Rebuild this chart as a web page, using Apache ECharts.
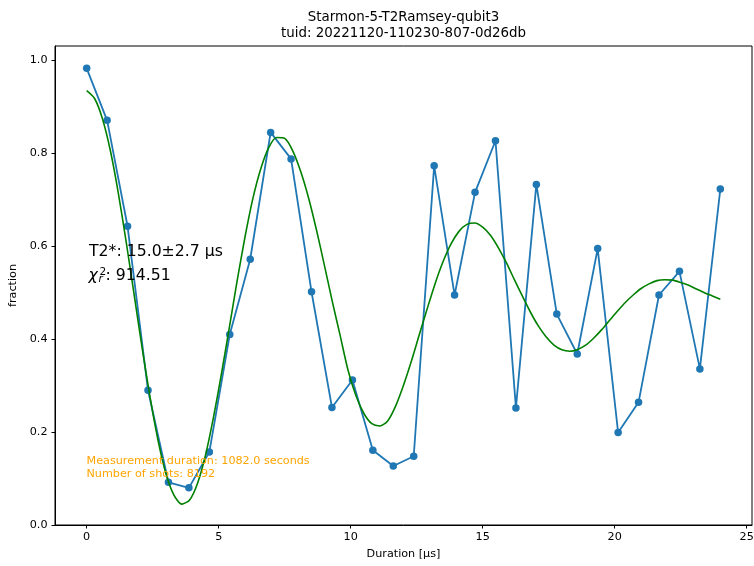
<!DOCTYPE html>
<html>
<head>
<meta charset="utf-8">
<script src="https://cdn.jsdelivr.net/npm/echarts@6/dist/echarts.min.js"></script>
<style>
html,body{margin:0;padding:0;background:#fff;}
#c{width:754px;height:566px;}
</style>
</head>
<body>
<div id="c"></div>
<script>
// Measured data (Duration in μs, fraction)
const durations = [0, 0.774, 1.548, 2.323, 3.097, 3.871, 4.645, 5.419, 6.194, 6.968, 7.742, 8.516, 9.290, 10.065, 10.839, 11.613, 12.387, 13.161, 13.935, 14.710, 15.484, 16.258, 17.032, 17.806, 18.581, 19.355, 20.129, 20.903, 21.677, 22.452, 23.226, 24.0];
const fractions = [0.983, 0.871, 0.643, 0.290, 0.092, 0.080, 0.157, 0.410, 0.572, 0.845, 0.788, 0.502, 0.253, 0.312, 0.161, 0.127, 0.148, 0.773, 0.495, 0.716, 0.827, 0.252, 0.733, 0.454, 0.368, 0.595, 0.199, 0.264, 0.495, 0.546, 0.336, 0.723];

// Fit curve
const fitT = [0, 0.3, 0.6, 0.9, 1.2, 1.5, 1.8, 2.1, 2.4, 2.7, 3.0, 3.3, 3.6, 3.9, 4.2, 4.5, 4.8, 5.1, 5.4, 5.7, 6.0, 6.3, 6.6, 6.9, 7.2, 7.5, 7.8, 8.1, 8.4, 8.7, 9.0, 9.3, 9.6, 9.9, 10.2, 10.5, 10.8, 11.1, 11.4, 11.7, 12.0, 12.3, 12.6, 12.9, 13.2, 13.5, 13.8, 14.1, 14.4, 14.7, 15.0, 15.3, 15.6, 15.9, 16.2, 16.5, 16.8, 17.1, 17.4, 17.7, 18.0, 18.3, 18.6, 18.9, 19.2, 19.5, 19.8, 20.1, 20.4, 20.7, 21.0, 21.3, 21.6, 21.9, 22.2, 22.5, 22.8, 23.1, 23.4, 23.7, 24.0];
const fitY = [0.935, 0.918, 0.874, 0.805, 0.714, 0.608, 0.495, 0.381, 0.275, 0.183, 0.111, 0.065, 0.045, 0.054, 0.090, 0.150, 0.231, 0.324, 0.424, 0.526, 0.621, 0.704, 0.768, 0.813, 0.834, 0.832, 0.806, 0.762, 0.705, 0.636, 0.560, 0.482, 0.408, 0.333, 0.278, 0.240, 0.218, 0.213, 0.224, 0.256, 0.301, 0.353, 0.410, 0.466, 0.520, 0.567, 0.605, 0.632, 0.647, 0.650, 0.641, 0.623, 0.596, 0.564, 0.528, 0.493, 0.459, 0.429, 0.405, 0.387, 0.377, 0.374, 0.378, 0.387, 0.402, 0.420, 0.440, 0.460, 0.479, 0.495, 0.509, 0.519, 0.526, 0.528, 0.527, 0.522, 0.516, 0.508, 0.500, 0.493, 0.486];

const xTicks = [0, 5, 10, 15, 20, 25];
const yTicks = [0.0, 0.2, 0.4, 0.6, 0.8, 1.0];

const titleLine1 = 'Starmon-5-T2Ramsey-qubit3';
const titleLine2 = 'tuid: 20221120-110230-807-0d26db';
const t2Text = 'T2*: 15.0\u00B12.7 \u03BCs';
const chiValue = ': 914.51';
const infoLines = ['Measurement duration: 1082.0 seconds', 'Number of shots: 8192'];

const FONT = 'DejaVu Sans';
const chart = echarts.init(document.getElementById('c'), null, {renderer: 'canvas'});

const measData = durations.map((d, i) => [d, fractions[i]]);
const fitData = fitT.map((t, i) => [t, fitY[i]]);

chart.setOption({
  animation: false,
  backgroundColor: '#ffffff',
  grid: {left: 55, right: 2, top: 46, bottom: 41, outerBoundsMode: 'none', containLabel: false, show: true, borderColor: '#000', borderWidth: 1, backgroundColor: 'transparent'},
  xAxis: {
    type: 'value', min: -1.2, max: 25.2,
    name: 'Duration [\u03BCs]', nameLocation: 'middle', nameGap: 23.5,
    nameTextStyle: {fontFamily: FONT, fontSize: 11.2, color: '#000'},
    axisLine: {show: true, onZero: false, lineStyle: {color: '#000', width: 1}},
    axisTick: {show: true, inside: false, length: 3.5, lineStyle: {color: '#000'}, customValues: xTicks},
    axisLabel: {show: true, fontFamily: FONT, fontSize: 11.2, color: '#000', margin: 7, customValues: xTicks, formatter: v => String(v)},
    splitLine: {show: false}
  },
  yAxis: {
    type: 'value', min: 0, max: 1.031,
    name: 'fraction', nameLocation: 'middle', nameGap: 34, nameRotate: 90,
    nameTextStyle: {fontFamily: FONT, fontSize: 11.2, color: '#000'},
    axisLine: {show: true, onZero: false, lineStyle: {color: '#000', width: 1}},
    axisTick: {show: true, inside: false, length: 3.5, lineStyle: {color: '#000'}, customValues: yTicks},
    axisLabel: {show: true, fontFamily: FONT, fontSize: 11.2, color: '#000', margin: 7.5, customValues: yTicks, formatter: v => v.toFixed(1)},
    splitLine: {show: false}
  },
  series: [
    {
      type: 'line', data: measData, symbol: 'circle', symbolSize: 7.5,
      itemStyle: {color: '#1f77b4'}, lineStyle: {color: '#1f77b4', width: 1.8},
      z: 2
    },
    {
      type: 'line', data: fitData, symbol: 'none', smooth: 0.25,
      lineStyle: {color: '#008000', width: 1.6},
      z: 3
    }
  ],
  graphic: [
    {type: 'text', x: 403.5, y: 17.5, style: {text: titleLine1, fontFamily: FONT, fontSize: 13.4, fill: '#000', align: 'center', verticalAlign: 'middle'}},
    {type: 'text', x: 403.5, y: 34, style: {text: titleLine2, fontFamily: FONT, fontSize: 13.4, fill: '#000', align: 'center', verticalAlign: 'middle'}},
    {type: 'text', x: 89, y: 252, z: 10, style: {text: t2Text, fontFamily: FONT, fontSize: 15.7, fill: '#000', align: 'left', verticalAlign: 'middle'}},
    {type: 'text', x: 88.5, y: 275.5, z: 10, style: {text: '\u03C7', fontFamily: FONT, fontStyle: 'italic', fontSize: 15.7, fill: '#000', align: 'left', verticalAlign: 'middle'}},
    {type: 'text', x: 99.5, y: 272, z: 10, style: {text: '2', fontFamily: FONT, fontSize: 10.5, fill: '#000', align: 'left', verticalAlign: 'middle'}},
    {type: 'text', x: 98.5, y: 279, z: 10, style: {text: 'r', fontFamily: FONT, fontStyle: 'italic', fontSize: 10.5, fill: '#000', align: 'left', verticalAlign: 'middle'}},
    {type: 'text', x: 105.5, y: 275.5, z: 10, style: {text: chiValue, fontFamily: FONT, fontSize: 15.7, fill: '#000', align: 'left', verticalAlign: 'middle'}},
    {type: 'text', x: 86.5, y: 461, z: 10, style: {text: infoLines[0], fontFamily: FONT, fontSize: 11.2, fill: '#FFA500', align: 'left', verticalAlign: 'middle'}},
    {type: 'text', x: 86.5, y: 474, z: 10, style: {text: infoLines[1], fontFamily: FONT, fontSize: 11.2, fill: '#FFA500', align: 'left', verticalAlign: 'middle'}}
  ]
});
</script>
</body>
</html>
